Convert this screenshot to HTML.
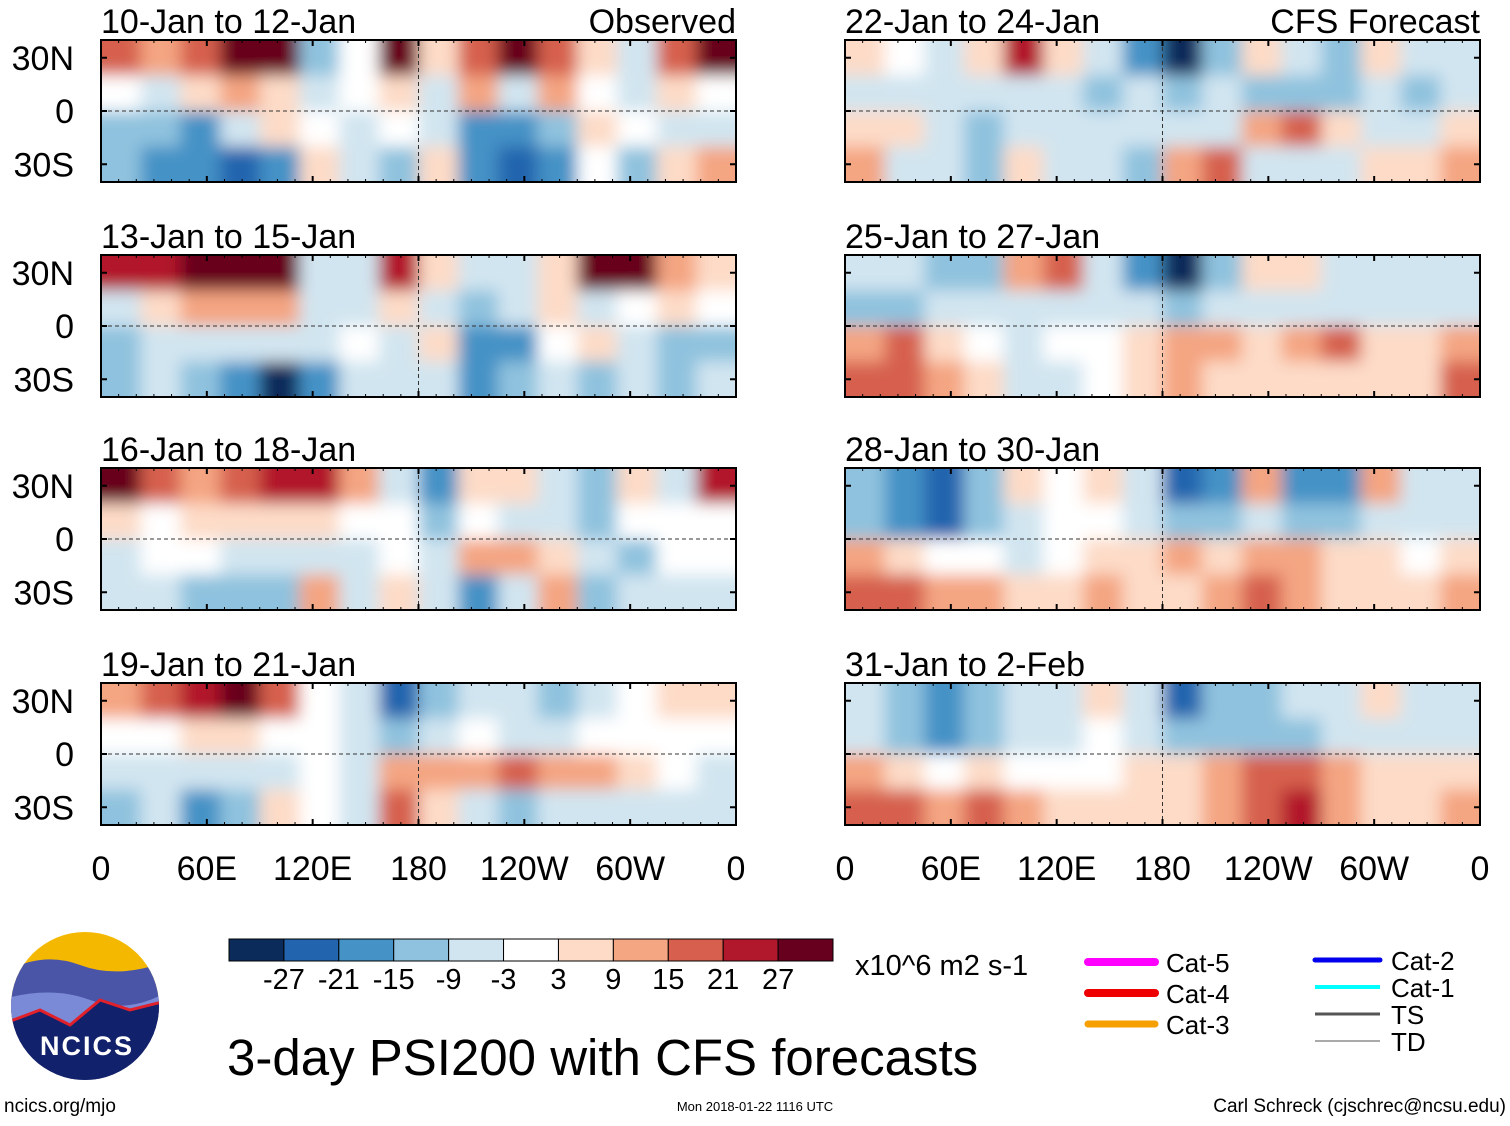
<!DOCTYPE html>
<html><head><meta charset="utf-8"><style>
body{margin:0;background:#fff;width:1510px;height:1121px;overflow:hidden;font-family:"Liberation Sans",sans-serif}
svg text{font-family:"Liberation Sans",sans-serif}
</style></head><body>
<svg id="chart" width="1510" height="1121" viewBox="0 0 1510 1121" xmlns="http://www.w3.org/2000/svg">
<defs><filter id="bl" x="-10%" y="-30%" width="120%" height="160%"><feGaussianBlur stdDeviation="8"/></filter></defs>
</svg>
<script>
const panelTitles=["10-Jan to 12-Jan","13-Jan to 15-Jan","16-Jan to 18-Jan","19-Jan to 21-Jan","22-Jan to 24-Jan","25-Jan to 27-Jan","28-Jan to 30-Jan","31-Jan to 2-Feb"];
const xTicks=["0","60E","120E","180","120W","60W","0"];
const yTicks=["30N","0","30S"];
const yTickLats=[30,0,-30];
const cbLabels=["-27","-21","-15","-9","-3","3","9","15","21","27"];
const levelColors=["#0b2b5a","#2265ae","#4592c6","#8fc2de","#d1e5f0","#ffffff","#fddbc7","#f4a582","#d6604d","#b2182b","#67001f"];
// anomaly level (-5..5) per 22.5deg lon x 20deg lat cell; rows 40N-20N,20N-0,0-20S,20S-40S
const p1=[[3,2,3,5,5,-2,0,5,1,3,5,3,1,-1,3,5],[0,-1,1,2,1,-1,0,1,-1,2,-1,2,0,-1,1,0],[-2,-2,-3,-1,1,0,-1,0,-1,-3,-3,-2,1,0,-1,-1],[-2,-3,-3,-4,-3,1,-1,-2,1,-3,-4,-3,0,-2,1,2]];
const p2=[[4,4,5,5,5,-1,-1,4,1,-1,-1,1,5,5,2,1],[-1,1,2,2,2,-1,-1,1,-1,-2,-1,1,-1,0,1,0],[-2,-1,-1,-1,-1,-1,0,-1,1,-3,-3,0,1,-1,-2,-2],[-2,-1,-2,-3,-5,-3,-1,-1,-1,-3,-2,-1,-2,-1,-2,-1]];
const p3=[[5,3,2,3,4,4,2,-1,-3,1,1,-1,-2,1,-1,4],[1,0,1,1,1,1,0,0,-2,0,-1,-1,-2,0,0,0],[-1,0,0,-1,-1,-1,-1,0,-1,2,2,1,-1,-2,0,0],[-1,-1,-2,-2,-2,2,-1,1,-1,-3,-1,2,-2,-1,-1,-1]];
const p4=[[2,3,4,5,3,0,-1,-4,-2,-1,-1,-2,-1,0,1,1],[0,0,1,1,0,0,-1,-2,-1,0,-1,-1,0,0,0,0],[-1,-1,-1,-1,-1,0,-1,2,2,2,3,2,2,1,0,-1],[-2,-1,-3,-2,1,0,-1,3,1,-1,-2,-1,-1,-1,-1,-1]];
const p5=[[1,0,-1,1,4,1,-1,-3,-5,-2,1,-1,-2,1,-1,-1],[-1,-1,-1,-1,-1,-1,-2,-1,-2,-1,-2,-2,-2,-1,-2,-1],[1,1,-1,-2,-1,-1,-1,-1,-1,-1,2,3,1,-1,-1,1],[2,-1,-1,-2,1,-1,-1,-2,2,3,-1,-1,-1,1,1,2]];
const p6=[[-1,-1,-2,-2,2,3,-1,-3,-5,-2,1,1,-1,-1,-1,-1],[-2,-2,-1,-1,-1,-1,-1,-1,-2,-1,-1,-1,-1,-1,-1,-1],[2,3,1,0,-1,0,0,1,2,2,1,2,3,1,1,2],[3,3,2,1,-1,-1,0,1,2,1,1,1,1,1,1,3]];
const p7=[[-2,-3,-4,-2,1,0,1,-1,-4,-3,2,-3,-3,2,-1,-1],[-2,-3,-4,-2,-1,0,0,-1,-2,-2,-1,-2,-2,-1,-1,-1],[2,1,0,0,-1,0,1,1,2,1,2,2,1,1,0,1],[3,3,2,2,1,1,2,1,1,2,3,2,1,1,1,2]];
const p8=[[-1,-2,-3,-2,-1,-1,1,-1,-4,-2,-2,-1,-1,1,-1,-1],[-1,-2,-3,-2,-1,-1,0,-1,-2,-2,-2,-2,-1,-1,-1,-1],[2,1,0,1,0,0,0,1,1,2,3,3,2,1,1,1],[3,3,2,3,2,1,1,1,1,2,3,4,2,1,1,2]];
const panelData=[p1,p2,p3,p4,p5,p6,p7,p8];

const NS="http://www.w3.org/2000/svg";
const svg=document.getElementById('chart');
function mk(tag,attrs,parent,txt){const e=document.createElementNS(NS,tag);for(const k in attrs)e.setAttribute(k,attrs[k]);if(txt!==undefined)e.textContent=txt;(parent||svg).appendChild(e);return e;}
const colX=[101,845], W=635, rowY=[40,255,468,683], H=142;
function lonX(x0,lon){return x0+lon/360*W;}
function latY(y0,lat){return y0+(40-lat)/80*H;}
const defs=svg.querySelector('defs');
panelData.forEach((data,pi)=>{
  const x0=colX[Math.floor(pi/4)], y0=rowY[pi%4];
  const cp=mk('clipPath',{id:'cp'+pi},defs); mk('rect',{x:x0,y:y0,width:W,height:H},cp);
  const g=mk('g',{'clip-path':'url(#cp'+pi+')'});
  
  
  const gb=mk('g',{filter:'url(#bl)'},g);
  const nr=data.length, nc=data[0].length;
  data.forEach((row,r)=>row.forEach((v,c)=>{
    let xa=lonX(x0,c*360/nc), xb=lonX(x0,(c+1)*360/nc), ya=latY(y0,40-r*80/nr), yb=latY(y0,40-(r+1)*80/nr);
    if(c===0)xa-=40; if(c===nc-1)xb+=40; if(r===0)ya-=40; if(r===nr-1)yb+=40;
    const rc=mk('rect',{x:xa,y:ya,width:xb-xa+1,height:yb-ya+1,fill:levelColors[v+5]},gb);
    
    
  }));
  mk('line',{x1:x0,x2:x0+W,y1:latY(y0,0),y2:latY(y0,0),stroke:'#333','stroke-width':1,'stroke-dasharray':'4,3'});
  mk('line',{x1:lonX(x0,180),x2:lonX(x0,180),y1:y0,y2:y0+H,stroke:'#333','stroke-width':1,'stroke-dasharray':'4,3'});
  const fr=mk('rect',{x:x0,y:y0,width:W,height:H,fill:'none',stroke:'#000','stroke-width':2});
  
  
  for(let k=0;k<=6;k++){const x=lonX(x0,k*60);mk('line',{x1:x,x2:x,y1:y0,y2:y0+6,stroke:'#000','stroke-width':2});mk('line',{x1:x,x2:x,y1:y0+H,y2:y0+H-6,stroke:'#000','stroke-width':2});}
  for(let k=0;k<=36;k++){const x=lonX(x0,k*10);mk('line',{x1:x,x2:x,y1:y0,y2:y0+3,stroke:'#000'});mk('line',{x1:x,x2:x,y1:y0+H,y2:y0+H-3,stroke:'#000'});}
  yTickLats.forEach(l=>{const y=latY(y0,l);mk('line',{x1:x0,x2:x0+6,y1:y,y2:y,stroke:'#000','stroke-width':2});mk('line',{x1:x0+W,x2:x0+W-6,y1:y,y2:y,stroke:'#000','stroke-width':2});});
  const t=mk('text',{x:x0,y:y0-7,'font-size':34},null,panelTitles[pi]);
  
  
  if(pi%4===0){const r=mk('text',{x:x0+W,y:y0-7,'font-size':34,'text-anchor':'end'},null,pi===0?'Observed':'CFS Forecast');
    
    }
  if(pi<4) yTicks.forEach((s,k)=>{const y=latY(y0,yTickLats[k]);const e=mk('text',{x:74,y:y+12,'font-size':34,'text-anchor':'end'},null,s);
    
    });
});
colX.forEach(x0=>xTicks.forEach((s,k)=>{const e=mk('text',{x:lonX(x0,k*60),y:880,'font-size':34,'text-anchor':'middle'},null,s);
  
  }));
const cbX=229,cbW=604,cbY=939,cbH=22,bw=cbW/levelColors.length;
levelColors.forEach((c,i)=>{const e=mk('rect',{x:cbX+i*bw,y:cbY,width:bw,height:cbH,fill:c,stroke:'#000','stroke-width':1});
  
  });
cbLabels.forEach((s,i)=>{const e=mk('text',{x:cbX+(i+1)*bw,y:989,'font-size':29,'text-anchor':'middle'},null,s);
  
  });
</script>
<svg style="position:absolute;left:0;top:0" width="1510" height="1121">
<text x="855" y="975" font-size="29">x10^6 m2 s-1</text>
<text x="227" y="1075" font-size="51">3-day PSI200 with CFS forecasts</text>
<g>
<clipPath id="lc"><circle cx="85" cy="1006" r="74"/></clipPath>
<g clip-path="url(#lc)"><rect x="0" y="920" width="170" height="180" fill="#f5b800"/>
<path d="M0 975 Q40 950 80 965 T170 960 V1100 H0Z" fill="#4a55a8"/>
<path d="M0 1000 Q50 985 90 1000 T170 990 V1100 H0Z" fill="#7b8ad6"/>
<path d="M0 1025 L40 1010 L70 1025 L100 1000 L130 1010 L170 1000 V1100 H0Z" fill="#12216b" stroke="#e0202a" stroke-width="3"/></g>
<text x="87" y="1055" font-size="27" font-weight="bold" fill="#fff" text-anchor="middle" letter-spacing="2">NCICS</text>
</g>
<text x="4" y="1112" font-size="19">ncics.org/mjo</text>
<text x="755" y="1111" font-size="13" text-anchor="middle">Mon 2018-01-22 1116 UTC</text>
<text x="1506" y="1112" font-size="19" text-anchor="end">Carl Schreck (cjschrec@ncsu.edu)</text>
<g>
<line x1="1088" y1="962" x2="1155" y2="962" stroke="#ff00ff" stroke-width="8" stroke-linecap="round"/><text x="1166" y="972" font-size="26">Cat-5</text>
<line x1="1088" y1="993" x2="1155" y2="993" stroke="#ee0000" stroke-width="8" stroke-linecap="round"/><text x="1166" y="1003" font-size="26">Cat-4</text>
<line x1="1088" y1="1024" x2="1155" y2="1024" stroke="#f5a000" stroke-width="7" stroke-linecap="round"/><text x="1166" y="1034" font-size="26">Cat-3</text>
<line x1="1315" y1="960" x2="1380" y2="960" stroke="#0000ee" stroke-width="5" stroke-linecap="round"/><text x="1391" y="970" font-size="26">Cat-2</text>
<line x1="1315" y1="987" x2="1380" y2="987" stroke="#00ffff" stroke-width="4"/><text x="1391" y="997" font-size="26">Cat-1</text>
<line x1="1315" y1="1014" x2="1380" y2="1014" stroke="#555" stroke-width="3"/><text x="1391" y="1024" font-size="26">TS</text>
<line x1="1315" y1="1041" x2="1380" y2="1041" stroke="#aaa" stroke-width="2"/><text x="1391" y="1051" font-size="26">TD</text>
</g>
</svg>
</body></html>
